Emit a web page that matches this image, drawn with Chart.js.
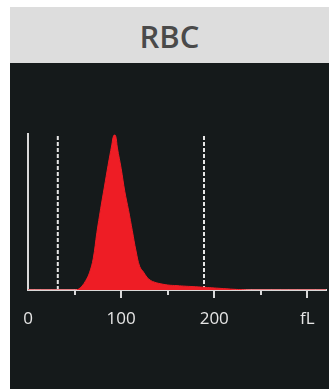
<!DOCTYPE html>
<html>
<head>
<meta charset="utf-8">
<script src="https://cdn.jsdelivr.net/npm/chart.js@4/dist/chart.umd.min.js"></script>
<style>
  html, body { margin: 0; padding: 0; background: #fff; }
  body { width: 329px; height: 389px; position: relative; overflow: hidden; }
  #title {
    position: absolute; left: 10px; top: 7px; width: 319px; height: 56px;
    background: #dddddd; color: #4a4a4a;
    font: 600 31px "Open Sans", sans-serif; text-align: center; line-height: 58px;
  }
  #panel { position: absolute; left: 10px; top: 63px; width: 319px; height: 326px; background: #151a1b; }
</style>
</head>
<body>
<div id="title">RBC</div>
<div id="panel"><canvas id="rbc-chart" width="319" height="326"></canvas></div>
<script>
// cell volume (fL) and relative count
const volumes = [0, 50, 54, 58, 62, 66, 70, 74, 78, 82, 86, 90, 92, 94, 96, 100, 104, 108, 112, 116, 120, 124, 128, 132, 136, 140, 150, 160, 170, 180, 190, 200, 210, 220, 230, 240, 320];
const counts = [0, 0, 0.5, 2.5, 6, 11, 20, 37, 52, 66, 80, 93, 99, 99, 91, 78, 63, 51, 38, 25, 15, 11.5, 8, 6, 5, 4.3, 3.2, 2.8, 2.4, 2.1, 1.7, 1.3, 0.9, 0.5, 0.2, 0, 0];
// discriminator markers
const markers = [32, 189];
const tickLabels = { 0: '0', 100: '100', 200: '200', 300: 'fL' };

const fg = '#e6e6e6';

const tickMarks = {
  id: 'tickMarks',
  afterDraw(chart) {
    const { ctx, scales: { x } } = chart;
    const base = chart.chartArea.bottom;
    ctx.save();
    ctx.strokeStyle = '#d9d9d9';
    ctx.lineWidth = 2;
    for (let v = 50; v <= 300; v += 50) {
      const px = Math.round(x.getPixelForValue(v));
      ctx.beginPath();
      ctx.moveTo(px, base);
      ctx.lineTo(px, base + (v % 100 === 0 ? 8 : 5));
      ctx.stroke();
    }
    ctx.restore();
  },
};

const markerSets = markers.map((m) => ({
  data: [{ x: m, y: 0 }, { x: m, y: 100 }],
  borderColor: fg,
  borderWidth: 2,
  borderDash: [4, 2],
  pointRadius: 0,
  fill: false,
}));

new Chart(document.querySelector('#rbc-chart'), {
  type: 'line',
  data: {
    datasets: [
      {
        data: volumes.map((v, i) => ({ x: v, y: counts[i] })),
        borderColor: '#ee1d25',
        backgroundColor: '#ee1d25',
        borderWidth: 1,
        pointRadius: 0,
        tension: 0.4,
        fill: 'origin',
      },
      ...markerSets,
    ],
  },
  options: {
    responsive: false,
    animation: false,
    events: [],
    layout: { padding: { left: 18, top: 71, right: 3, bottom: 0 } },
    plugins: { legend: { display: false }, tooltip: { enabled: false } },
    scales: {
      x: {
        type: 'linear',
        min: 0,
        max: 320,
        afterFit: (scale) => { scale.height = 99; },
        grid: { display: false },
        border: { color: '#d9d9d9', width: 2 },
        afterBuildTicks: (scale) => { scale.ticks = [0, 100, 200, 300].map((v) => ({ value: v })); },
        ticks: {
          color: fg,
          font: { family: 'Open Sans', size: 17 },
          padding: 11,
          maxRotation: 0,
          autoSkip: false,
          callback: (v) => tickLabels[v] ?? '',
        },
      },
      y: {
        min: 0,
        max: 100,
        afterFit: (scale) => { scale.width = 0; },
        grid: { display: false },
        border: { color: '#d9d9d9', width: 2 },
        ticks: { display: false },
      },
    },
  },
  plugins: [tickMarks],
});
</script>
</body>
</html>
